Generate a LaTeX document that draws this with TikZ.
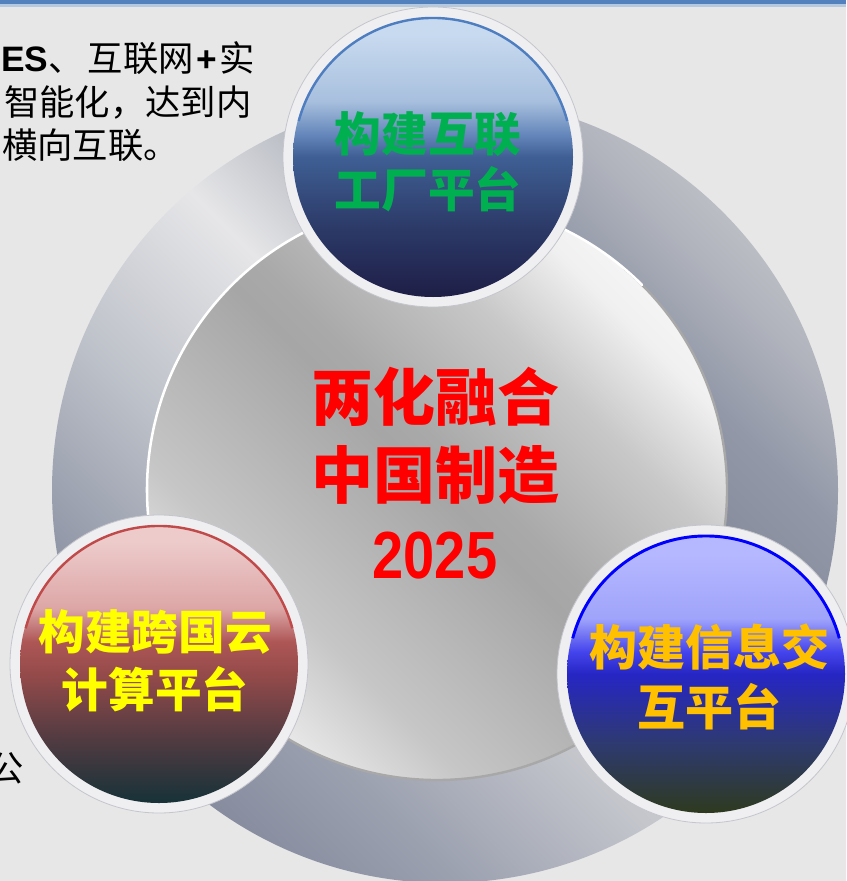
\documentclass[tikz,border=0pt]{standalone}
\usepackage{graphicx}
\usepackage{fontspec}
\setmainfont{Liberation Sans}
\newfontfamily\cjk{Noto Sans CJK SC}
\newfontfamily\digf{Liberation Sans}
\definecolor{bgc}{HTML}{E7E7E7}
\definecolor{barc}{HTML}{5381BE}
\definecolor{barl}{HTML}{B4C8E0}
\definecolor{rimc}{HTML}{EFEFF2}
\definecolor{rimedge}{HTML}{C4C6CC}
\definecolor{diskedge}{HTML}{A8A8A8}
% ring segment colours
\definecolor{ra0}{HTML}{8C92A2}\definecolor{ra1}{HTML}{9298A8}\definecolor{ra2}{HTML}{BCC0C8}\definecolor{ra3}{HTML}{E6E6E8}\definecolor{ra4}{HTML}{B4B8C0}
\definecolor{rb0}{HTML}{80879A}\definecolor{rb1}{HTML}{868C9C}\definecolor{rb2}{HTML}{9298A8}\definecolor{rb3}{HTML}{B0B3BC}\definecolor{rb4}{HTML}{C6C7CC}
\definecolor{rc0}{HTML}{868C9E}\definecolor{rc1}{HTML}{9CA1B0}\definecolor{rc2}{HTML}{C4C6CC}\definecolor{rc3}{HTML}{CCCDD1}
% disk colours
\definecolor{dk0}{HTML}{EAEAEA}\definecolor{dk1}{HTML}{C6C6C6}\definecolor{dk2}{HTML}{B6B6B6}\definecolor{dk3}{HTML}{A6A6A6}\definecolor{dk4}{HTML}{A9A9A9}\definecolor{dk5}{HTML}{C8C8C8}\definecolor{dk6}{HTML}{F0F0F0}\definecolor{dk7}{HTML}{F4F4F4}
% navy ball
\definecolor{nv0}{HTML}{C8DAEF}
\definecolor{nv1}{HTML}{A8C0DE}
\definecolor{nv2}{HTML}{6486BA}
\definecolor{nv3}{HTML}{3F5F94}
\definecolor{nv4}{HTML}{2C3A68}
\definecolor{nv5}{HTML}{1E1E46}
\definecolor{nvedge}{HTML}{4F7EC0}
% red ball
\definecolor{rd0}{HTML}{EDCBCB}
\definecolor{rd1}{HTML}{DDA6A6}
\definecolor{rd2}{HTML}{AE5656}
\definecolor{rd3}{HTML}{944A4A}
\definecolor{rd4}{HTML}{563C42}
\definecolor{rd5}{HTML}{163238}
\definecolor{rdedge}{HTML}{C04A4A}
% blue ball
\definecolor{bl0}{HTML}{B6B8FF}
\definecolor{bl1}{HTML}{A0A4FA}
\definecolor{bl2}{HTML}{4444EC}
\definecolor{bl3}{HTML}{2626C4}
\definecolor{bl4}{HTML}{2E3A70}
\definecolor{bl5}{HTML}{2E3A1E}
\definecolor{bledge}{HTML}{0000FF}
\definecolor{tgreen}{HTML}{00B050}
\definecolor{tyellow}{HTML}{FFFF00}
\definecolor{torange}{HTML}{FFC000}
\definecolor{tred}{HTML}{FF0000}
\pgfdeclareverticalshading{ringA}{100bp}{color(0bp)=(ra0); color(25bp)=(ra0); color(30bp)=(ra1); color(40bp)=(ra2); color(52bp)=(ra3); color(60bp)=(ra4); color(100bp)=(ra4)}
\pgfdeclareverticalshading{ringB}{100bp}{color(0bp)=(rb0); color(52bp)=(rb0); color(60bp)=(rb1); color(66bp)=(rb2); color(72bp)=(rb3); color(78bp)=(rb4); color(100bp)=(rb4)}
\pgfdeclareverticalshading{ringC}{100bp}{color(0bp)=(rc0); color(25bp)=(rc0); color(33bp)=(rc1); color(44bp)=(rc2); color(50bp)=(rc3); color(100bp)=(rc3)}
\pgfdeclareverticalshading{diskshade}{100bp}{color(0bp)=(dk0); color(25bp)=(dk0); color(34bp)=(dk1); color(42bp)=(dk2); color(50bp)=(dk3); color(53bp)=(dk4); color(64bp)=(dk5); color(72bp)=(dk6); color(75bp)=(dk7); color(100bp)=(dk7)}
\pgfdeclareverticalshading{navyball}{100bp}{color(0bp)=(nv5); color(25bp)=(nv5); color(37.5bp)=(nv4); color(50bp)=(nv3); color(54bp)=(nv2); color(60bp)=(nv1); color(72bp)=(nv0); color(100bp)=(nv0)}
\pgfdeclareverticalshading{redball}{100bp}{color(0bp)=(rd5); color(25bp)=(rd5); color(37.5bp)=(rd4); color(48bp)=(rd3); color(54bp)=(rd2); color(60bp)=(rd1); color(72bp)=(rd0); color(100bp)=(rd0)}
\pgfdeclareverticalshading{blueball}{100bp}{color(0bp)=(bl5); color(25bp)=(bl5); color(37.5bp)=(bl4); color(50bp)=(bl3); color(54bp)=(bl2); color(60bp)=(bl1); color(72bp)=(bl0); color(100bp)=(bl0)}
\tikzset{
  rim/.style={fill=rimc, draw=rimedge, line width=0.6pt},
  balltext/.style={font=\cjk\bfseries\fontsize{35}{42}\selectfont, align=center, inner sep=0pt},
  sidetext/.style={font=\cjk\fontsize{26.5}{33}\selectfont, text=black, inner sep=0pt}
}
\begin{document}
\begin{tikzpicture}[x=0.75pt,y=-0.75pt]
\useasboundingbox (0,0) rectangle (846,881);
\fill[bgc] (0,0) rectangle (846,881);
\fill[barl] (0,0) rectangle (846,7);
\fill[barc] (0,0) rectangle (846,4);
% ring, three segments
\coordinate (rc) at (445,490);
\begin{scope}
  \clip (rc) -- ([shift={(-92:700)}]rc) -- ([shift={(-150:700)}]rc) -- ([shift={(-211:700)}]rc) -- cycle;
  \shade[shading=ringA, shading angle=-45] (rc) circle[radius=393];
\end{scope}
\begin{scope}
  \clip (rc) -- ([shift={(35:700)}]rc) -- ([shift={(-30:700)}]rc) -- ([shift={(-92:700)}]rc) -- cycle;
  \shade[shading=ringB, shading angle=-45] (rc) circle[radius=393];
\end{scope}
\begin{scope}
  \clip (rc) -- ([shift={(-211:700)}]rc) -- ([shift={(90:700)}]rc) -- ([shift={(35:700)}]rc) -- cycle;
  \shade[shading=ringC, shading angle=-45] (rc) circle[radius=393];
\end{scope}
% inner disk
\coordinate (dc) at (437,490);
\shade[shading=diskshade, shading angle=-45] (dc) circle[radius=290];
\draw[diskedge, line width=1.8pt] ([shift={(-50:290)}]dc) arc[start angle=-50, end angle=130, radius=290];
\draw[white, line width=1.9pt, line cap=round] ([shift={(-230:290)}]dc) arc[start angle=-230, end angle=-45, radius=290];
% side texts
\node[sidetext, anchor=base west] (s1) at (1,71) {{\bfseries\fontspec{Liberation Sans}ES}、\hspace{3pt}互联网\hspace{2pt}{\bfseries\fontspec{Liberation Sans}+}\hspace{2pt}实};
\node[sidetext, anchor=base west] (s2) at (4,115) {智能化，达到内};
\node[sidetext, anchor=base west] (s3) at (2,158) {横向互联。};
\node[sidetext, anchor=base east] (s4) at (24,781) {公};
% top ball
\path[rim] (433,157) circle[radius=150];
\shade[shading=navyball] (433,157) circle[radius=140];
\draw[nvedge, line width=1.8pt] ([shift={(195:139)}]433,157) arc[start angle=195, end angle=345, radius=139];
% left ball
\path[rim] (159,664) circle[radius=149];
\shade[shading=redball] (159,664) circle[radius=139];
\draw[rdedge, line width=1.8pt] ([shift={(195:138)}]159,664) arc[start angle=195, end angle=345, radius=138];
% right ball
\path[rim] (706,674) circle[radius=149];
\shade[shading=blueball] (706,674) circle[radius=139];
\draw[bledge, line width=2.2pt] ([shift={(195:138)}]706,674) arc[start angle=195, end angle=345, radius=138];
% texts
\node[balltext, text=tgreen] (t1) at (428,162) {构建互联\\工厂平台};
\node[balltext, text=tyellow, font=\cjk\bfseries\fontsize{35}{43.5}\selectfont] (t2) at (155,661) {构建跨国云\\计算平台};
\node[balltext, text=torange, font=\cjk\bfseries\fontsize{36}{45}\selectfont] (t3) at (709,677) {构建信息交\\互平台};
\node[balltext, text=tred, font=\cjk\bfseries\fontsize{46.5}{58}\selectfont, anchor=base] (c1) at (435,420) {两化融合};
\node[balltext, text=tred, font=\cjk\bfseries\fontsize{46.5}{58}\selectfont, anchor=base] (c2) at (435,498) {中国制造};
\node[balltext, text=tred, font=\digf\bfseries\fontsize{50}{58}\selectfont, anchor=base] (c3) at (435,578) {\scalebox{0.84}[1]{2025}};
\end{tikzpicture}
\end{document}
